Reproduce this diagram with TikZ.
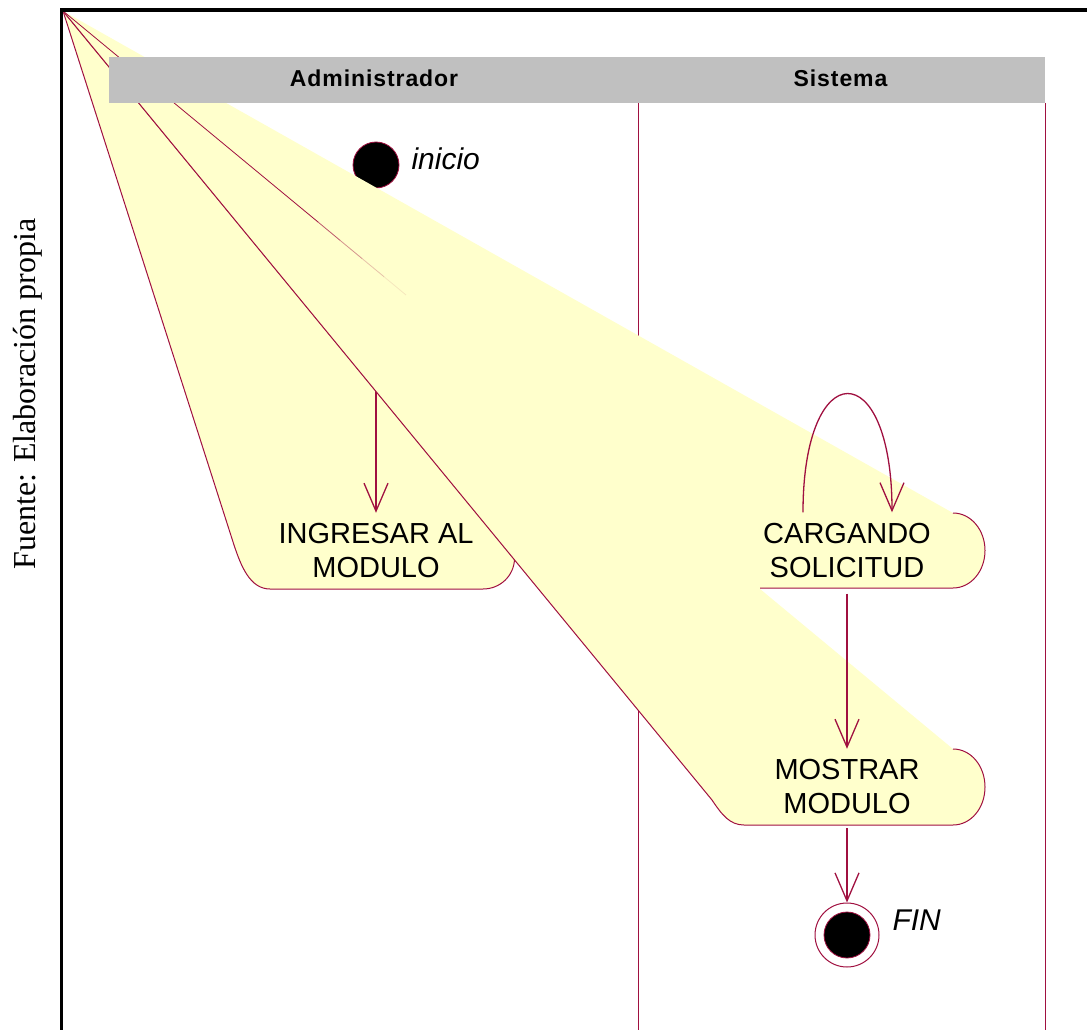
\documentclass[tikz,border=0pt]{standalone}
\usepackage{fontspec}
\setmainfont{Liberation Sans}
\newfontfamily\sidefont{Liberation Serif}
\usetikzlibrary{arrows.meta}
\definecolor{rosered}{RGB}{160,16,64}
\definecolor{noteyellow}{RGB}{255,255,204}
\definecolor{lanegrey}{RGB}{192,192,192}
\pgfdeclarelayer{lanes}
\pgfdeclarelayer{startl}
\pgfdeclarelayer{fanA}
\pgfdeclarelayer{arrA}
\pgfdeclarelayer{fanB}
\pgfdeclarelayer{fanC}
\pgfsetlayers{lanes,startl,fanA,arrA,fanB,fanC,main}
\begin{document}
\begin{tikzpicture}[x=1pt,y=-1pt,
  conn/.style={draw=rosered, line width=1.3pt, -{Straight Barb[length=28pt,width=24pt]}},
  edge/.style={draw=rosered, line width=1pt},
  actbox/.style={minimum width=276pt, minimum height=76pt, inner sep=0pt, align=center,
                 font=\fontsize{29}{34}\selectfont},
  lanetitle/.style={anchor=base, font=\bfseries\addfontfeature{LetterSpace=4}\fontsize{23}{28}\selectfont},
  statelbl/.style={anchor=base west, font=\itshape\fontsize{30}{36}\selectfont}]
\useasboundingbox (0,0) rectangle (1087,1030);

\coordinate (apex) at (63,11);

% activity nodes (text only, shapes drawn below)
\node[actbox] (ingr) at (376,551) {INGRESAR AL\\MODULO};
\node[actbox] (carg) at (847,550.5) {CARGANDO\\SOLICITUD};
\node[actbox] (most) at (847,787) {MOSTRAR\\MODULO};

% lanes
\begin{pgfonlayer}{lanes}
  \draw[draw=rosered, line width=1pt] (638.5,103) -- (638.5,1031);
  \draw[draw=rosered, line width=1pt] (1045,103) -- (1045,1031);
\end{pgfonlayer}

% start state
\begin{pgfonlayer}{startl}
  \node[circle, minimum size=46pt, inner sep=0pt, fill=black, draw=rosered, line width=0.8pt] (start) at (376,165) {};
\end{pgfonlayer}
\node[statelbl] (inilbl) at (408,170) {inicio};

% INGRESAR shape
\begin{pgfonlayer}{fanA}
  \path[fill=noteyellow, edge] (apex) -- (234,545) .. controls (241,566) and (250,589) .. (270,589)
     -- (483,589) .. controls (500,589) and (514,576) .. (514.5,559) -- cycle;
\end{pgfonlayer}
\begin{pgfonlayer}{arrA}
  \draw[conn] (start) -- (start |- ingr.north);
\end{pgfonlayer}

% CARGANDO shape (fill overlaps under the MOSTRAR fill to avoid a seam)
\begin{pgfonlayer}{fanB}
  \fill[noteyellow] (apex) -- (64,13) -- (760,598) -- (760,588) -- (953,588) .. controls (971,588) and (985,571) .. (985,550.5)
     .. controls (985,530) and (971,513) .. (953,513) -- cycle;
  \draw[edge] (760,588) -- (953,588) .. controls (971,588) and (985,571) .. (985,550.5)
     .. controls (985,530) and (971,513) .. (953,513);
\end{pgfonlayer}

% MOSTRAR shape
\begin{pgfonlayer}{fanC}
  \fill[noteyellow] (apex) -- (712,800) .. controls (722,815) and (730,825) .. (744,825) -- (953,825)
     .. controls (971,825) and (985,808) .. (985,787) .. controls (985,766) and (971,749) .. (953,749) -- cycle;
  \draw[edge] (apex) -- (712,800) .. controls (722,815) and (730,825) .. (744,825) -- (953,825)
     .. controls (971,825) and (985,808) .. (985,787) .. controls (985,766) and (971,749) .. (953,749);
  \draw[edge, line width=0.8pt] (apex) -- (318,222);
  \draw[edge, line width=0.8pt, opacity=0.7] (318,222) -- (340,240.3);
  \draw[edge, line width=0.8pt, opacity=0.45] (340,240.3) -- (362,258.5);
  \draw[edge, line width=0.8pt, opacity=0.25] (362,258.5) -- (384,276.7);
  \draw[edge, line width=0.8pt, opacity=0.1] (384,276.7) -- (406,295);
\end{pgfonlayer}

% frame
\draw[black, line width=3.3pt] (1088,10) -- (61.7,10) -- (61.7,1031);

% lane header
\fill[lanegrey] (109,57) rectangle (1045,103.5);
\node[lanetitle] (admin) at (374,87) {Administrador};
\node[lanetitle] (sist) at (840.5,87) {Sistema};

% final state
\node[circle, minimum size=64pt, inner sep=0pt, draw=rosered, line width=1pt, fill=white] (fin) at (847,935) {};
\filldraw[draw=rosered, fill=black, line width=0.8pt] (fin.center) circle[radius=23pt];
\node[statelbl] (finlbl) at (889,930) {FIN};

% transitions
\draw[conn] ([xshift=-44pt]carg.north) .. controls +(0,-158) and +(0,-158) .. ([xshift=45pt]carg.north);
\draw[conn, shorten <=5pt] (carg.south) -- (most.north);
\draw[conn, shorten <=3pt] (most.south) -- (fin.north);

% source note
\node[rotate=90, anchor=base, font=\sidefont\fontsize{32}{38}\selectfont] (src) at (35,394) {Fuente: Elaboración propia};
\end{tikzpicture}
\end{document}
